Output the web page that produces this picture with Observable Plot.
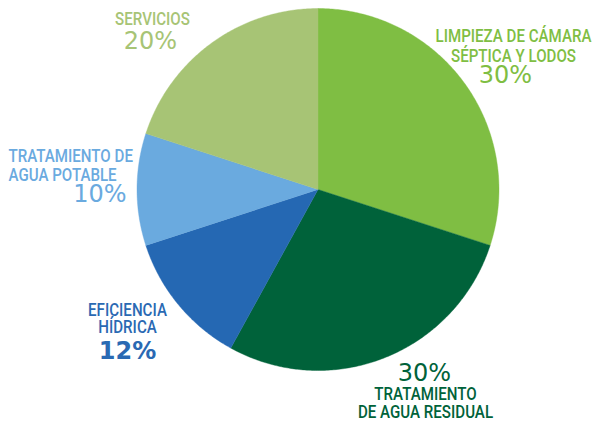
<!DOCTYPE html>
<html>
<head>
<meta charset="utf-8">
<script src="https://cdn.jsdelivr.net/npm/d3@7"></script>
<script src="https://cdn.jsdelivr.net/npm/@observablehq/plot@0.6"></script>
<style>
  html, body { margin: 0; padding: 0; background: #fff; }
  #chart svg { display: block; }
</style>
</head>
<body>
<div id="chart"></div>
<script>
// ---- data ----
const categories = ["Limpieza", "Residual", "Eficiencia", "Potable", "Servicios"];
const names = [
  "LIMPIEZA DE CÁMARA\nSÉPTICA Y LODOS",
  "TRATAMIENTO\nDE AGUA RESIDUAL",
  "EFICIENCIA\nHÍDRICA",
  "TRATAMIENTO DE\nAGUA POTABLE",
  "SERVICIOS"
];
const shares = [30, 28, 12, 10, 20];          // slice sizes as drawn
const pctLabels = ["30%", "30%", "12%", "10%", "20%"];
const sliceColors = ["#7fbe43", "#00623a", "#2568b3", "#6aaadf", "#a7c475"];
const textColors  = ["#7fbe43", "#00623a", "#2a69b3", "#6aaadf", "#a7c475"];

// ---- layout (pixels) ----
const W = 595, H = 424;
const CX = 317.5, CY = 189, R = 181;
const toX = px => (px - CX) / R;
const toY = py => (CY - py) / R;
const layout = [
  {nx: 513, ny: 27,  na: "middle", lh: 20, px: 505, py: 65,  pa: "middle", w: 500},
  {nx: 425, ny: 387, na: "middle", lh: 18, px: 424, py: 363, pa: "middle", w: 500},
  {nx: 127, ny: 303, na: "middle", lh: 17, px: 127, py: 341, pa: "middle", w: 700},
  {nx: 8,   ny: 148, na: "start",  lh: 19, px: 126, py: 184, pa: "end",    w: 400},
  {nx: 152, ny: 12,  na: "middle", lh: 18, px: 150, py: 31,  pa: "middle", w: 500}
];

// ---- slice polygons ----
const arcs = d3.pie().sort(null).value(d => d)(shares);
const pts = [];
arcs.forEach((a, i) => {
  const c = categories[i];
  pts.push({c, x: 0, y: 0});
  const n = Math.max(4, Math.ceil((a.endAngle - a.startAngle) / 0.01));
  for (let k = 0; k <= n; k++) {
    const t = a.startAngle + (a.endAngle - a.startAngle) * k / n;
    pts.push({c, x: Math.sin(t), y: Math.cos(t)});
  }
  pts.push({c, x: 0, y: 0});
});

const nameData = categories.map((c, i) => ({c, t: names[i], x: toX(layout[i].nx), y: toY(layout[i].ny), a: layout[i].na, lh: layout[i].lh, col: textColors[i]}));
const pctData = categories.map((c, i) => ({c, t: pctLabels[i], x: toX(layout[i].px), y: toY(layout[i].py), a: layout[i].pa, w: layout[i].w, col: textColors[i]}));

const nameFont = "Roboto, sans-serif";
const pctFont = "'DejaVu Sans', sans-serif";
const NFS = 18;

const marks = [
  Plot.line(pts, {x: "x", y: "y", z: "c", fill: "c", stroke: "c", strokeWidth: 0.4, curve: "linear"})
];
nameData.forEach(d => {
  marks.push(Plot.text([d], {x: "x", y: "y", text: "t", fill: d.col, textAnchor: d.a, lineAnchor: "top",
    lineHeight: d.lh / NFS, fontSize: NFS, fontWeight: 500, fontFamily: nameFont}));
});
pctData.forEach(d => {
  marks.push(Plot.text([d], {x: "x", y: "y", text: "t", fill: d.col, textAnchor: d.a, lineAnchor: "top",
    fontSize: 24, fontWeight: d.w, fontFamily: pctFont}));
});

const chart = Plot.plot({
  width: W, height: H,
  margin: 0,
  x: {domain: [-1, 1], range: [CX - R, CX + R], axis: null},
  y: {domain: [-1, 1], range: [CY + R, CY - R], axis: null},
  color: {domain: categories, range: sliceColors},
  style: {background: "#fff", overflow: "visible"},
  marks
});
document.getElementById("chart").appendChild(chart);

// condense the category labels horizontally (no condensed font installed)
const SX = 0.84;
chart.querySelectorAll("text").forEach(el => {
  if (/%/.test(el.textContent)) return;
  const tr = el.getAttribute("transform") || "";
  const xa = el.getAttribute("x");
  if (xa != null && +xa !== 0) {
    el.setAttribute("transform", `${tr} translate(${xa},0) scale(${SX},1) translate(${-xa},0)`);
  } else {
    el.setAttribute("transform", `${tr} scale(${SX},1)`);
  }
});
</script>
</body>
</html>
